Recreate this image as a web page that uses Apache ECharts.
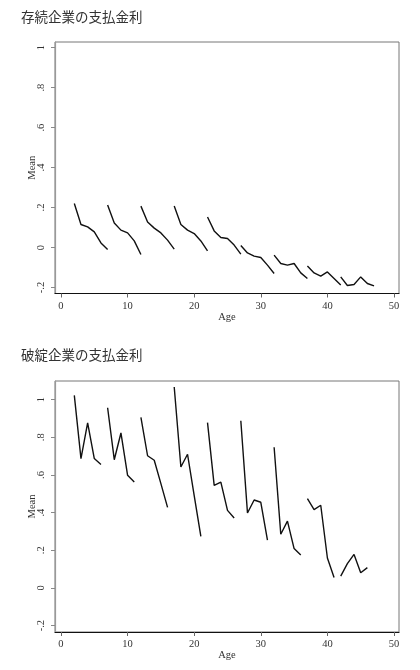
<!DOCTYPE html>
<html>
<head>
<meta charset="utf-8">
<script src="https://cdn.jsdelivr.net/npm/echarts@6/dist/echarts.min.js"></script>
<style>
html,body{margin:0;padding:0;background:#fff;}
#c{width:420px;height:670px;}
</style>
</head>
<body>
<div id="c"></div>
<script>
// ---- data ----
const panelTitles = ['存続企業の支払金利', '破綻企業の支払金利'];
const xTicks = [0, 10, 20, 30, 40, 50];
const yTicks = [-0.2, 0, 0.2, 0.4, 0.6, 0.8, 1];
const yTickLabels = ['-.2', '0', '.2', '.4', '.6', '.8', '1'];

// surviving firms: each segment starts at the given age, one value per year
const survivorStarts = [2, 7, 12, 17, 22, 27, 32, 37, 42];
const survivorMeans = [
  [0.220, 0.115, 0.103, 0.078, 0.023, -0.010],
  [0.213, 0.123, 0.087, 0.073, 0.033, -0.035],
  [0.207, 0.128, 0.097, 0.073, 0.037, -0.008],
  [0.208, 0.115, 0.087, 0.070, 0.033, -0.017],
  [0.153, 0.083, 0.050, 0.045, 0.012, -0.033],
  [0.010, -0.027, -0.043, -0.050, -0.088, -0.130],
  [-0.038, -0.080, -0.088, -0.080, -0.127, -0.155],
  [-0.093, -0.127, -0.143, -0.122, -0.155, -0.188],
  [-0.147, -0.190, -0.185, -0.147, -0.180, -0.192]
];

// bankrupt firms
const bankruptStarts = [2, 7, 12, 17, 22, 27, 32, 37, 42];
const bankruptMeans = [
  [1.023, 0.687, 0.876, 0.687, 0.656],
  [0.957, 0.681, 0.823, 0.598, 0.562],
  [0.906, 0.702, 0.678, 0.554, 0.428],
  [1.067, 0.642, 0.710, 0.490, 0.274],
  [0.878, 0.545, 0.562, 0.412, 0.371],
  [0.888, 0.398, 0.467, 0.455, 0.254],
  [0.747, 0.285, 0.355, 0.209, 0.175],
  [0.474, 0.416, 0.439, 0.159, 0.055],
  [0.063, 0.129, 0.178, 0.081, 0.108]
];

// ---- chart ----
const serif = '"Liberation Serif", "DejaVu Serif", serif';
const cjk = '"Noto Sans CJK JP", "Noto Sans CJK SC", sans-serif';

function makeSeries(starts, means, idx) {
  return starts.map((s, k) => ({
    type: 'line',
    xAxisIndex: idx, yAxisIndex: idx,
    symbol: 'none',
    lineStyle: { color: '#111', width: 1.4 },
    data: means[k].map((v, j) => [s + j, v]),
    animation: false,
    silent: true
  }));
}

function xAxisDef(idx) {
  return {
    type: 'value', gridIndex: idx,
    min: -0.9, max: 50.75,
    name: 'Age', nameLocation: 'middle', nameGap: 18, nameMoveOverlap: false,
    nameTextStyle: { fontFamily: serif, fontSize: 10.5, color: '#333' },
    axisLine: { show: true, onZero: false, lineStyle: { color: '#111', width: 1.2 } },
    axisTick: { show: true, length: 4, customValues: xTicks, lineStyle: { color: '#666' } },
    axisLabel: { customValues: xTicks, margin: 7, fontFamily: serif, fontSize: 10.5, color: '#333' },
    splitLine: { show: false }
  };
}

function yAxisDef(idx, min, max) {
  return {
    type: 'value', gridIndex: idx,
    min: min, max: max,
    name: 'Mean', nameLocation: 'middle', nameGap: 17, nameRotate: 90, nameMoveOverlap: false,
    nameTextStyle: { fontFamily: serif, fontSize: 10.5, color: '#333' },
    axisLine: { show: true, onZero: false, lineStyle: { color: '#999', width: 1.2 } },
    axisTick: { show: true, length: 4, customValues: yTicks, lineStyle: { color: '#888' } },
    axisLabel: {
      customValues: yTicks, rotate: 90, margin: 8,
      fontFamily: serif, fontSize: 10.5, color: '#333',
      formatter: v => {
        const i = yTicks.findIndex(t => Math.abs(t - v) < 1e-9);
        return i >= 0 ? yTickLabels[i] : '';
      }
    },
    splitLine: { show: false }
  };
}

const chart = echarts.init(document.getElementById('c'), null, { renderer: 'canvas' });
chart.setOption({
  backgroundColor: '#fff',
  animation: false,
  title: [
    { text: panelTitles[0], left: 16, top: 5, textStyle: { fontFamily: cjk, fontSize: 13.5, fontWeight: 'normal', color: '#333' } },
    { text: panelTitles[1], left: 16, top: 343, textStyle: { fontFamily: cjk, fontSize: 13.5, fontWeight: 'normal', color: '#333' } }
  ],
  grid: [
    { left: 55, top: 42, width: 344, height: 251.5, show: true, borderColor: '#777', borderWidth: 1, backgroundColor: 'transparent' },
    { left: 55, top: 381, width: 344, height: 251, show: true, borderColor: '#777', borderWidth: 1, backgroundColor: 'transparent' }
  ],
  xAxis: [xAxisDef(0), xAxisDef(1)],
  yAxis: [yAxisDef(0, -0.23, 1.028), yAxisDef(1, -0.234, 1.099)],
  series: makeSeries(survivorStarts, survivorMeans, 0).concat(makeSeries(bankruptStarts, bankruptMeans, 1))
});
</script>
</body>
</html>
